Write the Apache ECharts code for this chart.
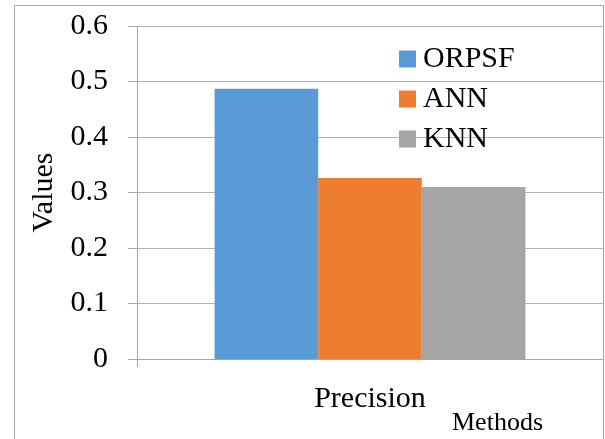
<!DOCTYPE html>
<html><head><meta charset="utf-8">
<script src="https://cdn.jsdelivr.net/npm/echarts@6/dist/echarts.min.js"></script>
<style>html,body{margin:0;padding:0;background:#fff}#c{width:605px;height:439px}</style>
</head><body><div id="c"></div>
<script>
var categories = ['Precision'];
var seriesNames = ['ORPSF', 'ANN', 'KNN'];
var orpsf = [0.487];
var ann = [0.326];
var knn = [0.31];
var yTicks = [0, 0.1, 0.2, 0.3, 0.4, 0.5, 0.6];
var colors = ['#5B9BD5', '#ED7D31', '#A5A5A5'];
var values = [orpsf, ann, knn];
var font = '"Liberation Serif","Times New Roman",serif';

var chart = echarts.init(document.getElementById('c'));
chart.setOption({
  animation: false,
  textStyle: {fontFamily: font},
  graphic: [{type: 'rect', shape: {x: 14.5, y: 5.5, width: 589, height: 440}, style: {fill: 'none', stroke: '#a6a6a6', lineWidth: 1}, silent: true, z: -1}],
  title: {text: 'Methods', left: 447, top: 405, textStyle: {fontFamily: font, fontSize: 26, fontWeight: 'normal', color: '#000'}},
  legend: {
    orient: 'vertical', left: 394, top: 39, itemWidth: 17, itemHeight: 17, itemGap: 10,
    icon: 'rect', data: seriesNames,
    textStyle: {fontFamily: font, fontSize: 30, color: '#000', padding: [0, 0, 0, 2]}
  },
  grid: {left: 137, right: 2, top: 26, bottom: 80},
  xAxis: {
    type: 'category', data: categories,
    axisLine: {lineStyle: {color: '#a6a6a6'}},
    axisTick: {show: true, length: 8, lineStyle: {color: '#a6a6a6'}},
    axisLabel: {fontFamily: font, fontSize: 30, color: '#000', margin: 25}
  },
  yAxis: {
    type: 'value', min: yTicks[0], max: yTicks[yTicks.length - 1], interval: 0.1,
    name: 'Values', nameLocation: 'middle', nameGap: 78,
    nameTextStyle: {fontFamily: font, fontSize: 30, color: '#000'},
    axisLine: {show: true, lineStyle: {color: '#a6a6a6'}},
    axisTick: {show: true, length: 9, lineStyle: {color: '#a6a6a6'}},
    splitLine: {lineStyle: {color: '#b3b3b3'}},
    axisLabel: {fontFamily: font, fontSize: 30, color: '#000', margin: 29, padding: [4, 0, 0, 0]}
  },
  series: seriesNames.map(function (n, i) {
    return {name: n, type: 'bar', data: values[i], barGap: '0%', barCategoryGap: '33.3%', itemStyle: {color: colors[i]}};
  })
});
</script></body></html>
